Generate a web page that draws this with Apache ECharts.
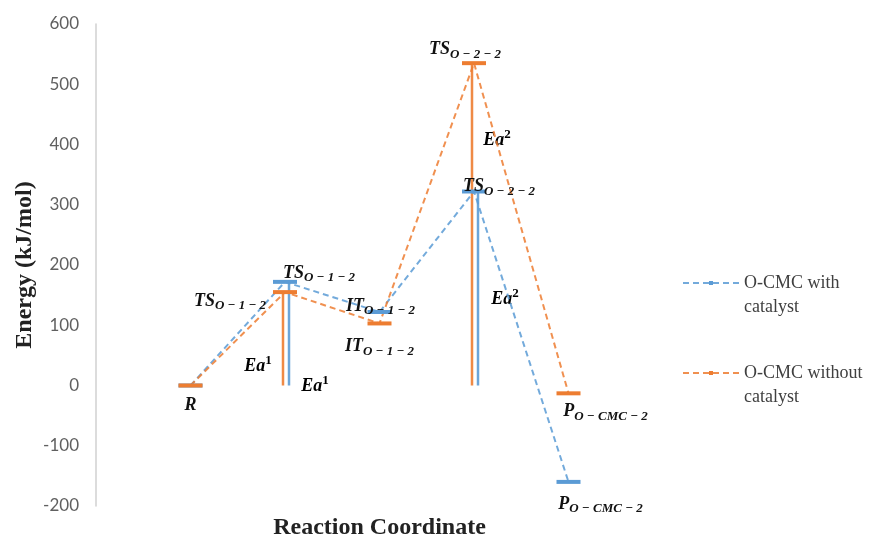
<!DOCTYPE html>
<html>
<head>
<meta charset="utf-8">
<script src="https://cdn.jsdelivr.net/npm/echarts@6/dist/echarts.min.js"></script>
<style>
  html, body { margin: 0; padding: 0; background: #fff; }
  #chart { width: 872px; height: 536px; }
</style>
</head>
<body>
<div id="chart"></div>
<script>
// Energy profile of O-CMC formation, with and without catalyst
// stage names use "main|subscript"
const stages = ['R', 'TS|O−1−2', 'IT|O−1−2', 'TS|O−2−2', 'P|O−CMC−2'];
const stagePos = [1, 2, 3, 4, 5];
const withCatalyst = [0, 172, 122, 322, -160];
const withoutCatalyst = [0, 155, 103, 535, -13];
const barrierIdx = [1, 3];               // stages that carry an Ea bar
const barrierNames = ['Ea|1', 'Ea|2'];   // "main|superscript"
const yTicks = [-200, -100, 0, 100, 200, 300, 400, 500, 600];
const seriesNames = ['O-CMC with\ncatalyst', 'O-CMC without\ncatalyst'];

const BLUE = '#5b9bd5';
const ORANGE = '#ed7d31';
const MATH = '"Liberation Serif", "DejaVu Serif", serif';

const richMath = {
    m: { fontFamily: MATH, fontStyle: 'italic', fontWeight: 'bold', fontSize: 18, color: '#111' },
    s: { fontFamily: MATH, fontStyle: 'italic', fontWeight: 'bold', fontSize: 13, color: '#111', padding: [10, 0, 0, 0] },
    u: { fontFamily: MATH, fontWeight: 'bold', fontSize: 13, color: '#111', padding: [0, 0, 12, 0] }
};

function fmtStage(s) {
    const [m, sub] = s.split('|');
    return sub ? '{m|' + m + '}{s|' + sub.replace(/−/g, ' − ') + '}' : '{m|' + m + '}';
}
function fmtBarrier(s) {
    const [m, sup] = s.split('|');
    return '{m|' + m + '}{u|' + sup + '}';
}

// label offsets (px) from each point
const blueLabelOffsets = [null, [34, -9], [1, -6], [25, -5], [32, 22]];
const orangeLabelOffsets = [[0, 20], [-55, 9], [0, 23], [-9, -14], [37, 18]];
// Ea text offsets (px) from the bar foot
const blueEaOffsets = [[30, 1], [31, -86]];
const orangeEaOffsets = [[-27, -19], [23, -245]];

function pointData(values, offsets) {
    return values.map((v, i) => ({
        value: [stagePos[i], v],
        label: offsets[i] ? {
            show: true, position: 'inside', offset: offsets[i],
            formatter: fmtStage(stages[i]), rich: richMath
        } : { show: false }
    }));
}

function lineSeries(name, values, color, offsets) {
    return {
        type: 'line', name,
        data: pointData(values, offsets),
        symbol: 'rect', symbolSize: [24, 4],
        itemStyle: { color },
        lineStyle: { color, width: 2, type: [6, 4], opacity: 0.85 },
        emphasis: { disabled: true },
        z: 3
    };
}

function eaSeries(values, color, shift, textOffsets) {
    return {
        type: 'custom',
        data: barrierIdx.map((i, k) => [stagePos[i], values[i], k]),
        renderItem(params, api) {
            const x = api.value(0), v = api.value(1), k = api.value(2);
            const top = api.coord([x, v]);
            const foot = api.coord([x, 0]);
            const off = textOffsets[k];
            return {
                type: 'group',
                children: [{
                    type: 'line',
                    shape: { x1: foot[0] + shift, y1: foot[1], x2: top[0] + shift, y2: top[1] },
                    style: { stroke: color, lineWidth: 2.5, opacity: 0.9 }
                }, {
                    type: 'text',
                    x: foot[0] + off[0], y: foot[1] + off[1],
                    style: {
                        text: fmtBarrier(barrierNames[k]), rich: richMath,
                        align: 'center', verticalAlign: 'middle'
                    }
                }]
            };
        },
        z: 2
    };
}

function legendFor(name, top) {
    return {
        data: [name], left: 682, top, padding: 0,
        itemWidth: 56, itemHeight: 5, itemGap: 0,
        // leading blank line keeps the first text line level with the icon
        formatter: n => '\n' + n,
        textStyle: { fontFamily: 'Liberation Serif', fontSize: 18, color: '#404040', lineHeight: 24 }
    };
}

const chart = echarts.init(document.getElementById('chart'));
chart.setOption({
    animation: false,
    backgroundColor: '#fff',
    grid: { left: 96, right: 209, top: 24, bottom: 30, outerBoundsMode: 'none', containLabel: false },
    legend: [legendFor(seriesNames[0], 247), legendFor(seriesNames[1], 337)],
    xAxis: {
        type: 'value', min: 0, max: stagePos.length + 1,
        axisLine: { show: false }, axisTick: { show: false },
        axisLabel: { show: false }, splitLine: { show: false },
        name: 'Reaction Coordinate', nameLocation: 'middle', nameGap: 10,
        nameTextStyle: { fontFamily: 'Liberation Serif', fontWeight: 'bold', fontSize: 24, color: '#222' }
    },
    yAxis: {
        type: 'value',
        min: yTicks[0], max: yTicks[yTicks.length - 1], interval: yTicks[1] - yTicks[0],
        axisLine: { show: true, lineStyle: { color: '#d0d0d0', width: 1.5 } },
        axisTick: { show: false },
        splitLine: { show: false },
        axisLabel: { fontFamily: 'Lato', fontSize: 17, color: '#606060', margin: 17 },
        name: 'Energy (kJ/mol)', nameLocation: 'middle', nameRotate: 90, nameGap: 59,
        nameMoveOverlap: false,
        nameTextStyle: { fontFamily: 'Liberation Serif', fontWeight: 'bold', fontSize: 24, color: '#222' }
    },
    series: [
        eaSeries(withCatalyst, BLUE, 4, blueEaOffsets),
        eaSeries(withoutCatalyst, ORANGE, -2, orangeEaOffsets),
        lineSeries(seriesNames[0], withCatalyst, BLUE, blueLabelOffsets),
        lineSeries(seriesNames[1], withoutCatalyst, ORANGE, orangeLabelOffsets)
    ]
});
</script>
</body>
</html>
